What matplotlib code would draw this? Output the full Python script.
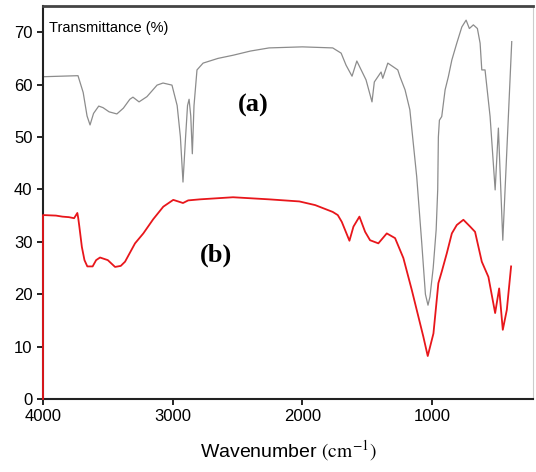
import matplotlib.pyplot as plt

plt.rcParams['font.family'] = ['Liberation Sans', 'DejaVu Sans']
plt.rcParams['mathtext.fontset'] = 'stix'

# spectrum (a), grey
wn_a = [4000, 3730, 3690, 3660, 3637, 3610, 3570, 3537, 3490, 3430, 3380, 3330,
        3306, 3259, 3198, 3120, 3074, 3005, 2965, 2940, 2920, 2900, 2885, 2873,
        2860, 2848, 2835, 2812, 2765, 2650, 2534, 2400, 2256, 2000, 1765, 1700,
        1662, 1616, 1579, 1508, 1462, 1444, 1392, 1379, 1340, 1263, 1246, 1207,
        1170, 1117, 1078, 1050, 1030, 1015, 990, 967, 955, 950, 942, 924, 898,
        873, 846, 808, 769, 736, 711, 680, 649, 628, 615, 590, 551, 512, 487,
        453, 384]
t_a = [61.5, 61.7, 58.5, 54.0, 52.3, 54.5, 55.9, 55.6, 54.8, 54.4, 55.5, 57.2,
       57.6, 56.7, 57.7, 59.9, 60.3, 59.9, 56.0, 50.0, 41.4, 50.0, 56.0, 57.2,
       54.0, 46.8, 56.0, 62.8, 64.1, 65.0, 65.6, 66.4, 67.0, 67.2, 67.0, 66.0,
       63.7, 61.6, 64.5, 60.9, 56.7, 60.5, 62.4, 61.2, 64.1, 62.8, 61.5, 59.0,
       55.2, 42.4, 29.7, 20.0, 17.9, 19.5, 25.0, 32.3, 40.0, 50.0, 53.2, 53.9,
       59.0, 61.5, 64.7, 67.9, 71.0, 72.3, 70.7, 71.4, 70.7, 67.9, 62.8, 62.8,
       53.9, 39.9, 51.7, 30.3, 68.2]

# spectrum (b), red
wn_b = [4000, 4000, 3900, 3850, 3800, 3760, 3735, 3728, 3720, 3700, 3680, 3658,
        3617, 3590, 3560, 3500, 3444, 3400, 3367, 3290, 3226, 3150, 3072, 2995,
        2920, 2880, 2789, 2534, 2256, 2022, 1900, 1765, 1726, 1695, 1636, 1605,
        1559, 1515, 1477, 1413, 1348, 1284, 1220, 1155, 1104, 1066, 1032, 988,
        950, 924, 885, 846, 808, 757, 705, 667, 615, 564, 512, 481, 453, 422, 389]
t_b = [0, 35.1, 35.0, 34.8, 34.7, 34.5, 35.5, 34.5, 33.0, 29.0, 26.5, 25.3,
       25.3, 26.5, 27.0, 26.5, 25.2, 25.4, 26.2, 29.7, 31.6, 34.3, 36.7, 38.0,
       37.4, 37.9, 38.1, 38.5, 38.1, 37.7, 37.0, 35.7, 35.1, 33.8, 30.2, 32.9,
       34.8, 31.9, 30.3, 29.7, 31.6, 30.7, 26.9, 20.8, 15.7, 11.9, 8.2, 12.5,
       22.1, 24.3, 27.8, 31.6, 33.2, 34.2, 32.9, 31.9, 26.2, 23.3, 16.4, 21.1,
       13.2, 17.0, 25.3]

fig = plt.figure(figsize=(5.36, 4.72), dpi=100)
ax = fig.add_axes([0.0802, 0.1547, 0.9142, 0.8326])

ax.plot(wn_a, t_a, color='#8c8c8c', lw=0.9)
ax.plot(wn_b, t_b, color='#e8161b', lw=1.3, zorder=3, clip_on=False)

ax.set_xlim(4000, 220)
ax.set_ylim(0, 75)
ax.set_xticks([4000, 3000, 2000, 1000])
ax.set_yticks(range(0, 80, 10))
ax.tick_params(labelsize=12, direction='out', length=4, width=1.2)

for s in ['left', 'bottom']:
    ax.spines[s].set_linewidth(1.5)
    ax.spines[s].set_color('#222222')
ax.spines['top'].set_linewidth(2)
ax.spines['top'].set_color('#444444')
ax.spines['right'].set_color('#cccccc')

ax.set_xlabel(r'Wavenumber $\mathrm{(cm^{-1})}$', fontsize=14, labelpad=10)

ax.text(3954, 70.8, 'Transmittance (%)', fontsize=10.5, ha='left', va='center')
ax.text(2380, 56.1, '(a)', fontsize=19, fontweight='bold', family='Liberation Serif',
        ha='center', va='center')
ax.text(2665, 27.5, '(b)', fontsize=19, fontweight='bold', family='Liberation Serif',
        ha='center', va='center')

fig.savefig('out.png')
